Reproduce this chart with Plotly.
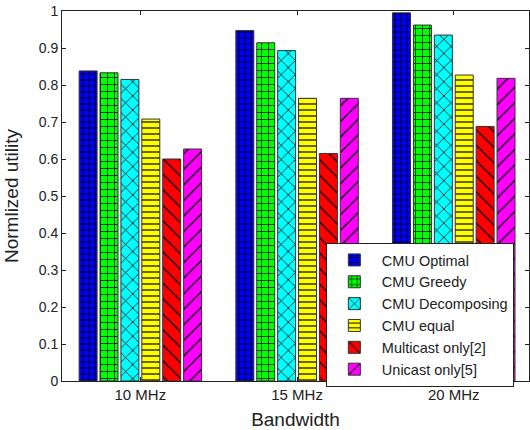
import plotly.graph_objects as go

categories = ["10 MHz", "15 MHz", "20 MHz"]
series_names = ["CMU Optimal", "CMU Greedy", "CMU Decomposing", "CMU equal",
                "Multicast only[2]", "Unicast only[5]"]
cmu_optimal = [0.838, 0.947, 0.995]
cmu_greedy = [0.833, 0.914, 0.962]
cmu_decomposing = [0.815, 0.893, 0.935]
cmu_equal = [0.708, 0.764, 0.827]
multicast_only = [0.600, 0.615, 0.688]
unicast_only = [0.627, 0.764, 0.818]
y_ticks = [0, 0.1, 0.2, 0.3, 0.4, 0.5, 0.6, 0.7, 0.8, 0.9, 1]
y_tick_labels = ["0", "0.1", "0.2", "0.3", "0.4", "0.5", "0.6", "0.7", "0.8", "0.9", "1"]

values = [cmu_optimal, cmu_greedy, cmu_decomposing, cmu_equal, multicast_only, unicast_only]
colors = ["#0000ff", "#00ff00", "#00ffff", "#ffff00", "#ff0000", "#ff00ff"]
shapes = ["+", "+", "x", "-", "\\", "/"]
sizes = [6, 7, 10, 6, 11, 11]
solid = [0.25, 0.2, 0.15, 0.2, 0.12, 0.12]

x_pos = [1, 2, 3]

fig = go.Figure()
for name, vals, c, sh, sz, so in zip(series_names, values, colors, shapes, sizes, solid):
    fig.add_trace(go.Bar(
        name=name, x=x_pos, y=vals,
        marker=dict(color=c, line=dict(color="#333333", width=1),
                    pattern=dict(shape=sh, fgcolor="black", bgcolor=c,
                                 fillmode="replace", size=sz, solidity=so)),
    ))

font_family = "Liberation Sans, Arial, sans-serif"
fig.update_layout(
    width=530, height=430,
    margin=dict(l=62, r=1, t=11, b=49),
    paper_bgcolor="white", plot_bgcolor="white",
    barmode="group", bargap=0.2, bargroupgap=0.14,
    font=dict(family=font_family, size=14, color="#222222"),
    showlegend=True,
    legend=dict(x=0.565, y=0.373, xanchor="left", yanchor="top",
                bgcolor="white", bordercolor="#222222", borderwidth=1,
                font=dict(size=14.5, family=font_family, color="#222222"),
                tracegroupgap=0, itemwidth=45),
    xaxis=dict(range=[0.5, 3.48], tickmode="array", tickvals=x_pos, ticktext=categories,
               showline=True, linecolor="#222222", linewidth=1, mirror="ticks",
               ticks="inside", ticklen=4, tickcolor="#222222",
               tickfont=dict(size=15),
               showgrid=False, zeroline=False, automargin=False,
               title=dict(text="Bandwidth", font=dict(size=19, family=font_family, color="#222222"))),
    yaxis=dict(range=[0, 1], tickmode="array", tickvals=y_ticks, ticktext=y_tick_labels,
               showline=True, linecolor="#222222", linewidth=1, mirror="ticks",
               ticks="inside", ticklen=4, tickcolor="#222222",
               tickfont=dict(size=14),
               showgrid=False, zeroline=False, automargin=False,
               title=dict(text="Normlized utility", font=dict(size=19, family=font_family, color="#222222"))),
)

fig.write_html("out.html", config={"displayModeBar": False},
               post_script="document.body.style.margin='0';document.body.style.overflow='hidden';")
